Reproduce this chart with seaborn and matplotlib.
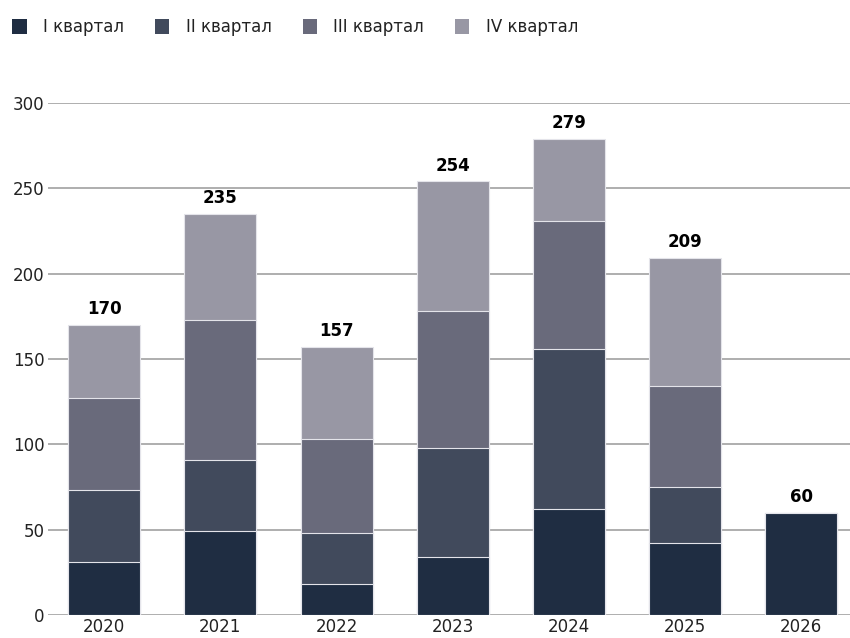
import numpy as np
import pandas as pd
import matplotlib
matplotlib.use("Agg")
import matplotlib.pyplot as plt
import seaborn as sns
from matplotlib.patches import Patch

years = ['2020', '2021', '2022', '2023', '2024', '2025', '2026']
q1 = [31, 49, 18, 34, 62, 42, 60]
q2 = [42, 42, 30, 64, 94, 33, 0]
q3 = [54, 82, 55, 80, 75, 59, 0]
q4 = [43, 62, 54, 76, 48, 75, 0]
quarters = ['I квартал', 'II квартал', 'III квартал', 'IV квартал']
colors = ['#1f2d42', '#414a5c', '#696a7b', '#9897a4']

sns.set_theme(style='white')
plt.rcParams['font.family'] = ['DejaVu Sans']

series = np.array([q1, q2, q3, q4])
cum = series.cumsum(axis=0)
totals = cum[-1]

fig = plt.figure(figsize=(8.5, 6.38), dpi=100)
ax = fig.add_axes([0.057, 0.036, 0.943, 0.8026])

# рисуем накопленные суммы сверху вниз, чтобы получить стек
for i in range(3, -1, -1):
    df = pd.DataFrame({'year': years, 'value': cum[i]})
    sns.barplot(data=df, x='year', y='value', color=colors[i], width=0.62,
                edgecolor='#e4e4ea', linewidth=0.8, saturation=1, ax=ax, zorder=3)

for x, t in enumerate(totals):
    ax.text(x, t + 4, f'{t}', ha='center', va='bottom', fontsize=12,
            fontweight='bold', color='black', zorder=4)

ax.set_ylim(0, 300)
ax.set_xlim(-0.48, 6.42)
ax.set_yticks(range(0, 301, 50))
ax.yaxis.grid(True, color='#a8a8a8', linewidth=1.3, zorder=0)
ax.set_xlabel('')
ax.set_ylabel('')
for s in ax.spines.values():
    s.set_visible(False)
ax.tick_params(axis='y', length=0, pad=3, labelsize=12, labelcolor='#222222')
ax.tick_params(axis='x', length=0, pad=2, labelsize=12, labelcolor='#222222')

handles = [Patch(facecolor=c, edgecolor='none', label=q) for c, q in zip(colors, quarters)]
fig.legend(handles=handles, loc='upper left', bbox_to_anchor=(-0.003, 0.995),
           ncol=4, frameon=False, fontsize=12, handlelength=0.85, handleheight=1.0,
           handletextpad=1.0, columnspacing=1.85, labelcolor='#222222')

plt.savefig('out.png', dpi=100)
